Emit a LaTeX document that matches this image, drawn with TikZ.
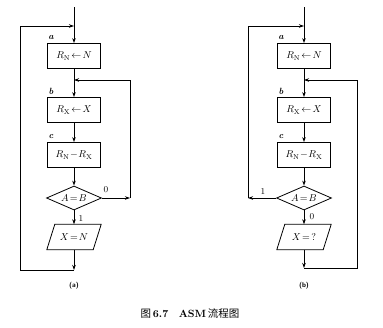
\documentclass[tikz,border=0pt]{standalone}
\usepackage{fontspec}
\newfontfamily\cjk{Noto Sans CJK SC}
\usetikzlibrary{shapes.geometric,arrows.meta}
\begin{document}
\begin{tikzpicture}[x=1pt,y=-1pt,
  box/.style={draw, line width=0.8pt, minimum width=53pt, minimum height=25pt, inner sep=0pt, font=\normalsize},
  dec/.style={draw, diamond, line width=0.8pt, minimum width=55pt, minimum height=24pt, inner sep=0pt, aspect=2.3, font=\normalsize},
  io/.style={rectangle, minimum width=54pt, minimum height=25pt, inner sep=0pt, font=\normalsize},
  flow/.style={line width=0.8pt},
  arr/.style={flow, -{Stealth[length=5pt,width=3.5pt]}},
  lab/.style={font=\small\bfseries\itshape, inner sep=0pt},
  num/.style={font=\small, inner sep=0pt},
  sub/.style={font=\sffamily\bfseries\scriptsize, inner sep=0pt}]
\useasboundingbox (0,0) rectangle (383,327);
% ---------- (a) ----------
\node[box] (ra) at (74,56) {$R_{\mathrm{N}}\!\leftarrow\! N$};
\node[box] (rb) at (74,110) {$R_{\mathrm{X}}\!\leftarrow\! X$};
\node[box] (rc) at (74,155) {$R_{\mathrm{N}}\!-\!R_{\mathrm{X}}$};
\node[dec] (da) at (74,198) {$A\!=\!B$};
\node[io]  (pa) at (74,237) {$X\!=\!N$};
\draw[flow] ([xshift=8pt]pa.north west) -- (pa.north east) -- ([xshift=-8pt]pa.south east) -- (pa.south west) -- cycle;
\node[lab] (la) at (51,37) {a};
\node[lab] (lb) at (51,91) {b};
\node[lab] (lc) at (51,136) {c};
\node[num] (z0) at (106,190) {0};
\node[num] (z1) at (81,218) {1};
\coordinate (a0) at (74,7);
\coordinate (a1) at (74,26);
\coordinate (a2) at (74,80);
\coordinate (a3) at (74,270);
\coordinate (a4) at (20,270);
\coordinate (a5) at (20,26);
\coordinate (a6) at (130,198);
\coordinate (a7) at (130,80);
\draw[arr] (a0) -- (ra);
\draw[arr] (ra) -- (rb);
\draw[arr] (rb) -- (rc);
\draw[arr] (rc) -- (da);
\draw[arr] (da) -- (pa);
\draw[arr] (pa) -- (a3);
\draw[arr] (a3) -- (a4) -- (a5) -- (a1);
\draw[arr] (da.east) -- (a6);
\draw[arr] (a6) -- (a7) -- (a2);
\node[sub] (capa) at (74,286) {(a)};
% ---------- (b) ----------
\node[box] (rbA) at (304,56) {$R_{\mathrm{N}}\!\leftarrow\! N$};
\node[box] (rbB) at (304,110) {$R_{\mathrm{X}}\!\leftarrow\! X$};
\node[box] (rbC) at (304,155) {$R_{\mathrm{N}}\!-\!R_{\mathrm{X}}$};
\node[dec] (db) at (304,198) {$A\!=\!B$};
\node[io]  (pb) at (304,237) {$X\!=\,?$};
\draw[flow] ([xshift=8pt]pb.north west) -- (pb.north east) -- ([xshift=-8pt]pb.south east) -- (pb.south west) -- cycle;
\node[lab] (lba) at (281,37) {a};
\node[lab] (lbb) at (281,91) {b};
\node[lab] (lbc) at (281,136) {c};
\node[num] (y1) at (263,191) {1};
\node[num] (y0) at (312,217) {0};
\coordinate (b0) at (304,7);
\coordinate (b1) at (304,26);
\coordinate (b2) at (304,80);
\coordinate (b3) at (304,268);
\coordinate (b4) at (357,268);
\coordinate (b5) at (357,80);
\coordinate (b6) at (248,198);
\coordinate (b7) at (248,26);
\draw[arr] (b0) -- (rbA);
\draw[arr] (rbA) -- (rbB);
\draw[arr] (rbB) -- (rbC);
\draw[arr] (rbC) -- (db);
\draw[arr] (db) -- (pb);
\draw[arr] (pb) -- (b3);
\draw[arr] (b3) -- (b4) -- (b5) -- (b2);
\draw[arr] (db.west) -- (b6);
\draw[arr] (b6) -- (b7) -- (b1);
\node[sub] (capb) at (304,286) {(b)};
% ---------- caption ----------
\node[inner sep=0pt, font=\fontsize{10.5}{12}\selectfont] (cap) at (190,314) {{\cjk 图}\,\textbf{6.7}\quad\textbf{ASM}\,{\cjk 流程图}};
\end{tikzpicture}
\end{document}
